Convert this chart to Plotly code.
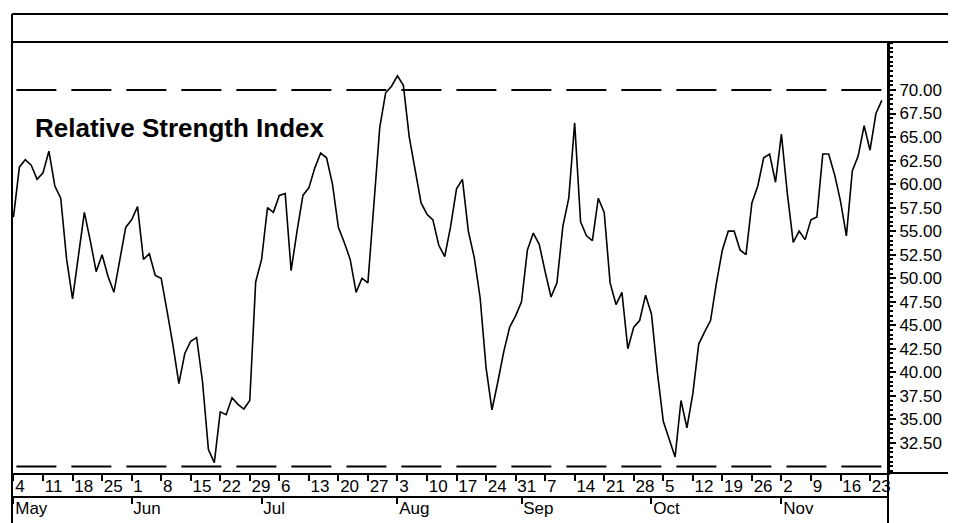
import pandas as pd
import plotly.graph_objects as go

# daily RSI readings, one per trading day starting Mon 4 May 1998
rsi = [
    56.5, 61.8, 62.6, 62.0, 60.5, 61.2, 63.5, 59.8, 58.5, 52.0,
    47.8, 52.5, 57.0, 54.0, 50.7, 52.5, 50.2, 48.5, 52.0, 55.4,
    56.2, 57.6, 52.0, 52.6, 50.3, 50.0, 46.5, 42.9, 38.8, 42.0,
    43.3, 43.7, 39.0, 31.8, 30.4, 35.8, 35.5, 37.3, 36.6, 36.1,
    37.0, 49.6, 52.0, 57.5, 57.0, 58.8, 59.0, 50.8, 55.0, 58.8,
    59.6, 61.7, 63.3, 62.8, 60.0, 55.4, 53.8, 52.0, 48.5, 50.0,
    49.5, 57.5, 66.0, 69.7, 70.4, 71.5, 70.5, 65.0, 61.5, 58.0,
    56.8, 56.2, 53.5, 52.3, 55.5, 59.5, 60.5, 55.0, 52.2, 47.9,
    40.5, 36.0, 39.0, 42.2, 44.8, 46.0, 47.5, 53.0, 54.8, 53.6,
    50.7, 48.0, 49.5, 55.5, 58.5, 66.5, 56.0, 54.5, 54.0, 58.5,
    57.0, 49.5, 47.2, 48.5, 42.5, 44.8, 45.5, 48.2, 46.2, 40.0,
    34.8, 33.0, 31.0, 37.0, 34.1, 37.7, 43.0, 44.3, 45.5, 49.5,
    53.0, 55.0, 55.0, 53.0, 52.5, 58.0, 59.8, 62.8, 63.2, 60.2,
    65.3, 59.0, 53.8, 55.0, 54.1, 56.2, 56.5, 63.2, 63.2, 61.0,
    58.2, 54.5, 61.4, 63.0, 66.2, 63.6, 67.5, 68.9,
]
dates = pd.bdate_range("1998-05-04", periods=len(rsi))

week_ticks = [
    "1998-05-04", "1998-05-11", "1998-05-18", "1998-05-25", "1998-06-01",
    "1998-06-08", "1998-06-15", "1998-06-22", "1998-06-29", "1998-07-06",
    "1998-07-13", "1998-07-20", "1998-07-27", "1998-08-03", "1998-08-10",
    "1998-08-17", "1998-08-24", "1998-08-31", "1998-09-07", "1998-09-14",
    "1998-09-21", "1998-09-28", "1998-10-05", "1998-10-12", "1998-10-19",
    "1998-10-26", "1998-11-02", "1998-11-09", "1998-11-16", "1998-11-23",
]
week_labels = ["4", "11", "18", "25", "1", "8", "15", "22", "29", "6",
               "13", "20", "27", "3", "10", "17", "24", "31", "7", "14",
               "21", "28", "5", "12", "19", "26", "2", "9", "16", "23"]
month_ticks = ["1998-05-04", "1998-06-01", "1998-07-01", "1998-08-03",
               "1998-09-01", "1998-10-01", "1998-11-02"]
month_labels = ["May", "Jun", "Jul", "Aug", "Sep", "Oct", "Nov"]
y_ticks = [32.5, 35, 37.5, 40, 42.5, 45, 47.5, 50, 52.5, 55, 57.5,
           60, 62.5, 65, 67.5, 70]
upper_level = 70
lower_level = 30

FONT = "Liberation Sans, Arial, sans-serif"
x_range = ["1998-05-01 18:00", "1998-11-26 01:00"]
breaks = [dict(bounds=["sat", "mon"])]

fig = go.Figure()
fig.add_trace(go.Scatter(x=dates, y=rsi, mode="lines",
                         line=dict(color="black", width=1.6),
                         showlegend=False, hoverinfo="skip"))
# invisible copy so the month axis gets drawn
fig.add_trace(go.Scatter(x=dates, y=rsi, mode="markers", xaxis="x2",
                         marker=dict(opacity=0), showlegend=False,
                         hoverinfo="skip"))

for lvl in (upper_level, lower_level):
    fig.add_shape(type="line", xref="paper", yref="y", x0=0.005, x1=1,
                  y0=lvl, y1=lvl, line=dict(color="black", width=2, dash="40px,15px"))

# frame lines of the scanned chart
frame = [
    (0, 1.0585, 1.08, 1.0585),
    (0, 1.0, 1.08, 1.0),
    (0, 1.0585, 0, -0.01),
    (1, 1.0, 1, -0.01),
    (1, 0.1002, 1.08, 0.1002),
]
for x0, y0, x1, y1 in frame:
    fig.add_shape(type="line", xref="paper", yref="paper", x0=x0, y0=y0,
                  x1=x1, y1=y1, line=dict(color="black", width=2))

fig.add_annotation(text="<b>Relative Strength Index</b>", xref="paper", yref="paper",
                   x=0.024, y=0.82, xanchor="left", yanchor="middle", showarrow=False,
                   font=dict(family=FONT, size=26, color="black"))

axis_font = dict(family=FONT, size=17, color="black")
# page body adds an 8px offset, so the figure is 8px smaller than the window
fig.update_layout(
    width=948, height=515,
    margin=dict(l=4, r=68, t=34, b=2, autoexpand=False),
    paper_bgcolor="white", plot_bgcolor="white",
    xaxis=dict(type="date", range=x_range, rangebreaks=breaks,
               tickmode="array", tickvals=week_ticks, ticktext=week_labels,
               ticks="outside", ticklen=6, tickwidth=1.5, tickcolor="black",
               ticklabelposition="outside right", ticklabelstandoff=-3,
               tickfont=axis_font, automargin=False,
               showline=True, linecolor="black", linewidth=2,
               showgrid=False, zeroline=False),
    xaxis2=dict(type="date", range=x_range, rangebreaks=breaks,
                overlaying="x", anchor="free", position=0.0501, side="bottom",
                tickmode="array", tickvals=month_ticks, ticktext=month_labels,
                ticks="outside", ticklen=6, tickwidth=1.5, tickcolor="black",
                ticklabelposition="outside right", ticklabelstandoff=-4,
                tickfont=axis_font, automargin=False,
                showline=True, linecolor="black", linewidth=2,
                showgrid=False, zeroline=False),
    yaxis=dict(domain=[0.1002, 1], range=[29.3, 75.1], side="right",
               tickmode="array", tickvals=y_ticks, tickformat=".2f",
               ticks="outside", ticklen=6, tickwidth=1.5, tickcolor="black",
               tickfont=axis_font, automargin=False,
               showline=True, linecolor="black", linewidth=2,
               minor=dict(tickmode="linear", tick0=0, dtick=0.5, ticks="outside",
                          ticklen=3, tickcolor="black"),
               showgrid=False, zeroline=False),
)

fig.write_html("out.html")
